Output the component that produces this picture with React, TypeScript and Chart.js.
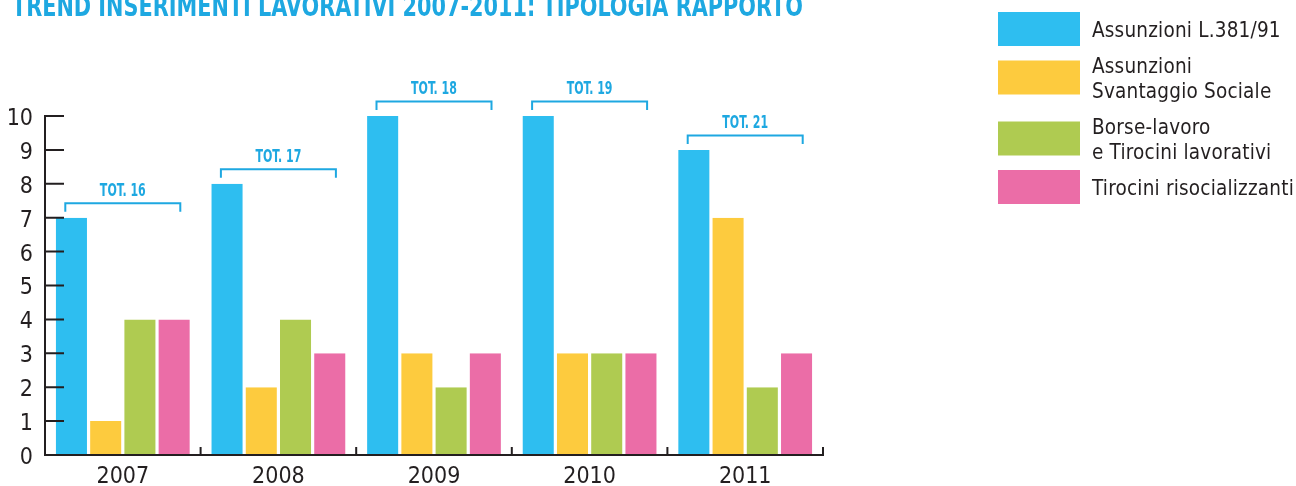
import React, { useEffect, useRef } from "react";
import { Chart, registerables } from "chart.js";

Chart.register(...registerables);

const TITLE = "TREND INSERIMENTI LAVORATIVI 2007-2011: TIPOLOGIA RAPPORTO";
const years = ["2007", "2008", "2009", "2010", "2011"];
const seriesLabels = [
  "Assunzioni L.381/91",
  "Assunzioni\nSvantaggio Sociale",
  "Borse-lavoro\ne Tirocini lavorativi",
  "Tirocini risocializzanti",
];
const assunzioni381 = [7, 8, 10, 10, 9];
const svantaggioSociale = [1, 2, 3, 3, 7];
const borseLavoro = [4, 4, 2, 3, 2];
const risocializzanti = [4, 3, 3, 3, 3];
const seriesColors = ["#2EBEF0", "#FDCB3E", "#AFCB51", "#EB6DA7"];
const Y_MIN = 0;
const Y_MAX = 10;

const NARROW = "'DejaVu Sans Condensed', 'Liberation Sans Narrow', sans-serif";
const ACCENT = "#1EA8E1";
const INK = "#231F20";

function condensedText(ctx: any, text: string, x: number, y: number, sx: number, align: string) {
  ctx.save();
  ctx.translate(x, y);
  ctx.scale(sx, 1);
  ctx.textAlign = align;
  ctx.fillText(text, 0, 0);
  ctx.restore();
}

const overlayPlugin = {
  id: "overlay",
  afterDatasetsDraw(chart: any) {
    const ctx = chart.ctx;
    const xs = chart.scales.x;
    const ys = chart.scales.y;
    const area = chart.chartArea;
    const n = chart.data.labels.length;
    const y0 = ys.getPixelForValue(Y_MIN);
    const yTop = ys.getPixelForValue(Y_MAX);
    ctx.save();

    // axes
    ctx.strokeStyle = INK;
    ctx.lineWidth = 2;
    ctx.beginPath();
    ctx.moveTo(area.left, yTop - 1);
    ctx.lineTo(area.left, y0 + 1);
    ctx.moveTo(area.left - 1, y0);
    ctx.lineTo(area.right, y0);
    ctx.stroke();

    // y tick marks (inward)
    ctx.beginPath();
    ys.ticks.forEach((t: any) => {
      const py = ys.getPixelForValue(t.value);
      ctx.moveTo(area.left, py);
      ctx.lineTo(area.left + 19, py);
    });
    ctx.stroke();

    // x category separators
    ctx.beginPath();
    for (let i = 1; i <= n; i++) {
      const bx = xs.getPixelForValue(i - 0.5);
      ctx.moveTo(bx, y0 + 1);
      ctx.lineTo(bx, y0 - 8);
    }
    ctx.stroke();

    // total brackets
    const ds = chart.data.datasets;
    ctx.strokeStyle = ACCENT;
    ctx.fillStyle = ACCENT;
    ctx.lineWidth = 2;
    ctx.font = `bold 17px ${NARROW}`;
    ctx.textBaseline = "alphabetic";
    for (let i = 0; i < n; i++) {
      const vals = ds.map((d: any) => d.data[i]);
      const total = vals.reduce((a: number, b: number) => a + b, 0);
      const maxV = Math.max(...vals);
      const cx = xs.getPixelForValue(i);
      const by = ys.getPixelForValue(maxV) - 14.5;
      ctx.beginPath();
      ctx.moveTo(cx - 57.5, by + 8.5);
      ctx.lineTo(cx - 57.5, by);
      ctx.lineTo(cx + 57.5, by);
      ctx.lineTo(cx + 57.5, by + 8.5);
      ctx.stroke();
      condensedText(ctx, `TOT. ${total}`, cx, by - 7.5, 0.72, "center");
    }

    // title
    ctx.font = `bold 28px ${NARROW}`;
    condensedText(ctx, TITLE, 12, 16, 0.826, "left");

    // legend
    let cy = 29;
    ds.forEach((d: any, k: number) => {
      const lines = String(d.label).split("\n");
      if (k > 0) {
        const prev = String(ds[k - 1].label).split("\n").length;
        cy += 12.5 * (prev + lines.length) + 11;
      }
      ctx.fillStyle = d.backgroundColor;
      ctx.fillRect(998, cy - 17, 82, 34);
      ctx.fillStyle = INK;
      ctx.font = `20.5px ${NARROW}`;
      ctx.letterSpacing = "0.2px";
      ctx.textAlign = "left";
      const base = cy + 8 - (lines.length - 1) * 12.25;
      lines.forEach((ln: string, j: number) => ctx.fillText(ln, 1092, base + j * 24.5));
      ctx.letterSpacing = "0px";
    });

    ctx.restore();
  },
};

export default function App() {
  const ref = useRef<HTMLCanvasElement | null>(null);
  useEffect(() => {
    if (!ref.current) return;
    const seriesData = [assunzioni381, svantaggioSociale, borseLavoro, risocializzanti];
    const chart = new Chart(ref.current, {
      type: "bar",
      data: {
        labels: years,
        datasets: seriesData.map((d, k) => ({
          label: seriesLabels[k],
          data: d,
          backgroundColor: seriesColors[k],
          borderColor: "#FFFFFF",
          borderWidth: { left: 1.6, right: 1.6, top: 0, bottom: 0 },
          borderSkipped: false,
          barPercentage: 1,
          categoryPercentage: 0.88,
        })),
      },
      options: {
        responsive: false,
        animation: false,
        devicePixelRatio: 1,
        layout: { padding: { top: 116, right: 473, left: 0, bottom: 0 } },
        plugins: {
          legend: { display: false },
          title: { display: false },
          tooltip: { enabled: false },
        },
        scales: {
          x: {
            grid: { display: false, drawTicks: false },
            border: { display: false },
            ticks: { color: INK, font: { family: NARROW, size: 23 }, padding: 8 },
            afterFit: (s: any) => {
              s.height = 31;
            },
          },
          y: {
            min: Y_MIN,
            max: Y_MAX,
            grid: { display: false, drawTicks: false },
            border: { display: false },
            ticks: {
              stepSize: 1,
              color: INK,
              font: { family: NARROW, size: 23 },
              padding: 12,
              labelOffset: 3,
            },
            afterFit: (s: any) => {
              s.width = 45;
            },
          },
        },
      },
      plugins: [overlayPlugin],
    });
    return () => chart.destroy();
  }, []);
  return (
    <div style={{ position: "absolute", left: 0, top: 0, width: 1296, height: 486, background: "#fff" }}>
      <canvas ref={ref} width={1296} height={486} style={{ display: "block" }} />
    </div>
  );
}
